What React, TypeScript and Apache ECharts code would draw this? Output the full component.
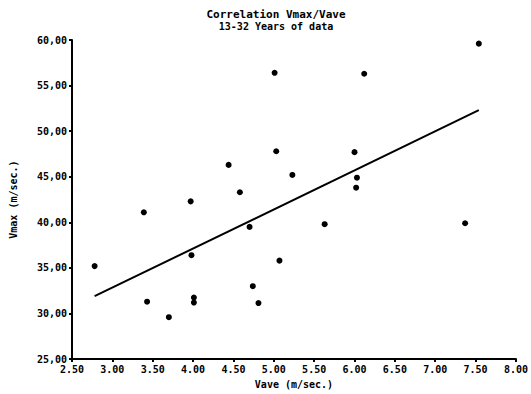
import React, { useEffect, useRef } from "react";
import * as echarts from "echarts";

const titleText = "Correlation Vmax/Vave";
const subtitleText = "13-32 Years of data";
const xName = "Vave (m/sec.)";
const yName = "Vmax (m/sec.)";

const vave = [2.78, 3.39, 3.43, 3.70, 3.97, 3.98, 4.01, 4.01, 4.44, 4.58, 4.70, 4.74, 4.81, 5.01, 5.03, 5.07, 5.23, 5.63, 6.00, 6.02, 6.03, 6.12, 7.37, 7.54];
const vmax = [35.2, 41.1, 31.3, 29.6, 42.3, 36.4, 31.75, 31.2, 46.3, 43.3, 39.5, 33.0, 31.15, 56.4, 47.8, 35.8, 45.2, 39.8, 47.7, 43.8, 44.9, 56.3, 39.9, 59.6];

const fitX = [2.78, 7.54];
const fitY = [31.9, 52.3];

const FONT = "DejaVu Sans Mono";

export default function App() {
  const ref = useRef<HTMLDivElement>(null);
  useEffect(() => {
    if (!ref.current) return;
    const chart = echarts.init(ref.current, null, { renderer: "svg" });
    const labelStyle = { fontFamily: FONT, fontWeight: "bold" as const, fontSize: 10, color: "#000" };
    chart.setOption({
      animation: false,
      backgroundColor: "#fff",
      title: {
        text: titleText,
        subtext: subtitleText,
        left: 271,
        textAlign: "center",
        top: 3,
        itemGap: 0,
        textStyle: { fontFamily: FONT, fontWeight: "bold", fontSize: 11, lineHeight: 13, color: "#000" },
        subtextStyle: { fontFamily: FONT, fontWeight: "bold", fontSize: 10, lineHeight: 11, color: "#000" },
      },
      grid: { left: 68, right: 15, top: 40, bottom: 24 },
      xAxis: {
        type: "value",
        min: 2.5,
        max: 8,
        interval: 0.5,
        name: xName,
        nameLocation: "middle",
        nameGap: 17,
        nameTextStyle: labelStyle,
        axisLine: { lineStyle: { color: "#000", width: 2 } },
        axisTick: { show: true, length: 3, lineStyle: { color: "#000", width: 2 } },
        splitLine: { show: false },
        axisLabel: {
          ...labelStyle,
          margin: 5,
          formatter: (v: number) => v.toFixed(2),
        },
      },
      yAxis: {
        type: "value",
        min: 25,
        max: 60,
        interval: 5,
        name: yName,
        nameLocation: "middle",
        nameGap: 54,
        nameTextStyle: labelStyle,
        axisLine: { lineStyle: { color: "#000", width: 2 } },
        axisTick: { show: true, length: 3, lineStyle: { color: "#000", width: 2 } },
        splitLine: { show: false },
        axisLabel: {
          ...labelStyle,
          margin: 5,
          formatter: (v: number) => v.toFixed(2).replace(".", ","),
        },
      },
      series: [
        {
          type: "scatter",
          data: vave.map((x, i) => [x, vmax[i]]),
          symbol: "circle",
          symbolSize: 6,
          itemStyle: { color: "#000", opacity: 1 },
        },
        {
          type: "line",
          data: fitX.map((x, i) => [x, fitY[i]]),
          symbol: "none",
          lineStyle: { color: "#000", width: 2 },
        },
      ],
    });
    return () => chart.dispose();
  }, []);
  return <div ref={ref} style={{ width: 531, height: 394, position: "absolute", left: 0, top: 0 }} />;
}
